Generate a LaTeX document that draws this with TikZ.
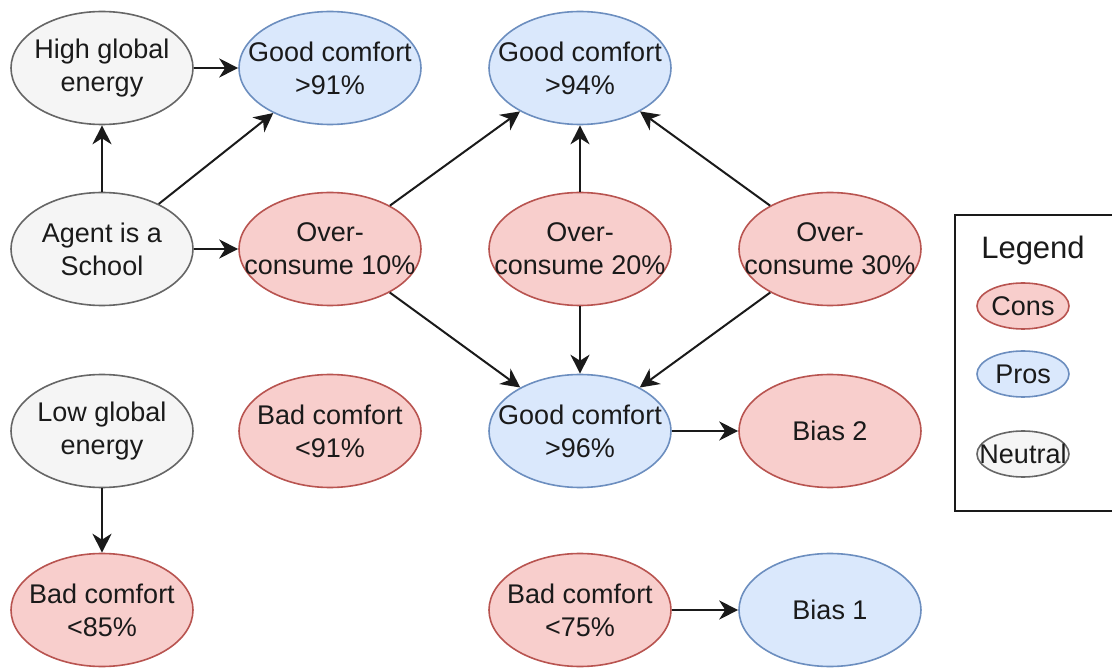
\documentclass[tikz,border=0pt]{standalone}
\usepackage{fontspec}
\setmainfont{Liberation Sans}
\usetikzlibrary{shapes.geometric,arrows.meta}
\definecolor{consfill}{HTML}{F8CECC}
\definecolor{consdraw}{HTML}{B85450}
\definecolor{prosfill}{HTML}{DAE8FC}
\definecolor{prosdraw}{HTML}{6C8EBF}
\definecolor{neutfill}{HTML}{F5F5F5}
\definecolor{neutdraw}{HTML}{666666}
\definecolor{ink}{HTML}{1A1A1A}
\begin{document}
\begin{tikzpicture}[x=1pt,y=-1pt,
  blob/.style={ellipse,line width=1.6pt,minimum width=182pt,minimum height=113pt,inner sep=0pt},
  smallblob/.style={ellipse,line width=1.6pt,minimum width=92pt,minimum height=46pt,inner sep=0pt},
  cons/.style={fill=consfill,draw=consdraw},
  pros/.style={fill=prosfill,draw=prosdraw},
  neut/.style={fill=neutfill,draw=neutdraw},
  lbltext/.style={align=center,font=\fontsize{27}{33}\selectfont,text=ink,inner sep=0pt},
  link/.style={draw=ink,line width=2pt,-{Stealth[length=19pt,width=19pt,inset=6pt]}}
]
\useasboundingbox (0,0) rectangle (1112,668);
\clip (0,0) rectangle (1112,668);

% row 1
\node[blob,neut] (hge) at (102,68) {};
\node[lbltext] (hget) at (hge) {High global\\energy};
\node[blob,pros] (gc91) at (330,68) {};
\node[lbltext] (gc91t) at (gc91) {Good comfort\\>91\%};
\node[blob,pros] (gc94) at (580,68) {};
\node[lbltext] (gc94t) at (gc94) {Good comfort\\>94\%};
% row 2
\node[blob,neut] (ais) at (102,249) {};
\node[lbltext] (aist) at (ais) {Agent is a\\School};
\node[blob,cons] (oc10) at (330,249) {};
\node[lbltext] (oc10t) at (oc10) {Over-\\consume 10\%};
\node[blob,cons] (oc20) at (580,249) {};
\node[lbltext] (oc20t) at (oc20) {Over-\\consume 20\%};
\node[blob,cons] (oc30) at (830,249) {};
\node[lbltext] (oc30t) at (oc30) {Over-\\consume 30\%};
% row 3
\node[blob,neut] (lge) at (102,431) {};
\node[lbltext] (lget) at (lge) {Low global\\energy};
\node[blob,cons] (bc91) at (330,431) {};
\node[lbltext] (bc91t) at (bc91) {Bad comfort\\<91\%};
\node[blob,pros] (gc96) at (580,431) {};
\node[lbltext] (gc96t) at (gc96) {Good comfort\\>96\%};
\node[blob,cons] (b2) at (830,431) {};
\node[lbltext] (b2t) at (b2) {Bias 2};
% row 4
\node[blob,cons] (bc85) at (102,610) {};
\node[lbltext] (bc85t) at (bc85) {Bad comfort\\<85\%};
\node[blob,cons] (bc75) at (580,610) {};
\node[lbltext] (bc75t) at (bc75) {Bad comfort\\<75\%};
\node[blob,pros] (b1) at (830,610) {};
\node[lbltext] (b1t) at (b1) {Bias 1};

% connectors
\draw[link] (hge) -- (gc91);
\draw[link] (ais) -- (hge);
\draw[link] (ais) -- (gc91);
\draw[link] (ais) -- (oc10);
\draw[link] (oc10) -- (gc94);
\draw[link] (oc20) -- (gc94);
\draw[link] (oc30) -- (gc94);
\draw[link] (oc10) -- (gc96);
\draw[link] (oc20) -- (gc96);
\draw[link] (oc30) -- (gc96);
\draw[link] (gc96) -- (b2);
\draw[link] (lge) -- (bc85);
\draw[link] (bc75) -- (b1);

% legend
\draw[draw=ink,line width=2pt] (955,215) rectangle (1140,511);
\node[lbltext,font=\fontsize{31}{36}\selectfont] (legt) at (1033,250) {Legend};
\node[smallblob,cons] (lcons) at (1023,306) {};
\node[lbltext] (lconst) at (lcons) {Cons};
\node[smallblob,pros] (lpros) at (1023,374) {};
\node[lbltext] (lprost) at (lpros) {Pros};
\node[smallblob,neut] (lneut) at (1023,454) {};
\node[lbltext] (lneutt) at (lneut) {Neutral};
\end{tikzpicture}
\end{document}
